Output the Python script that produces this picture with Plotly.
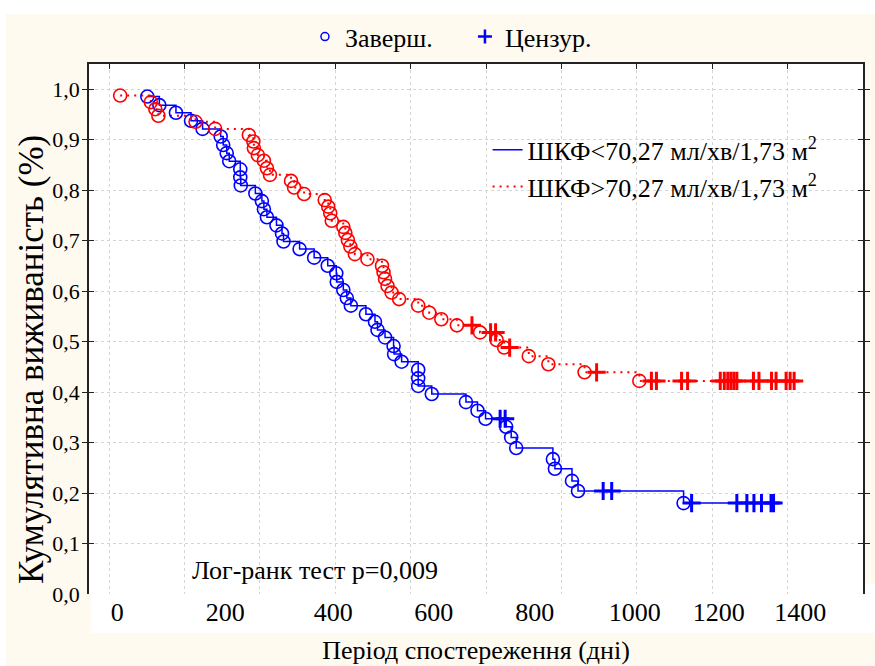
import plotly.graph_objects as go

# ---------------- data ----------------
blue_name = "ШКФ&lt;70,27 мл/хв/1,73 м<sup>2</sup>"
red_name = "ШКФ&gt;70,27 мл/хв/1,73 м<sup>2</sup>"

blue_event_days = [76, 100, 133, 163, 186, 222, 227, 234, 239, 261, 261, 262, 291, 304, 308,
                   314, 333, 344, 347, 379, 408, 435, 452, 453, 466, 473, 481, 511, 529, 534,
                   549, 566, 567, 582, 615, 615, 615, 642, 710, 733, 749, 790, 800, 810, 883,
                   887, 921, 933, 1143]
blue_event_surv = [0.985, 0.968, 0.953, 0.937, 0.921, 0.906, 0.889, 0.873, 0.857, 0.841,
                   0.825, 0.809, 0.793, 0.778, 0.762, 0.746, 0.730, 0.714, 0.698, 0.683,
                   0.666, 0.650, 0.635, 0.618, 0.602, 0.586, 0.571, 0.554, 0.539, 0.523,
                   0.508, 0.491, 0.475, 0.460, 0.444, 0.427, 0.412, 0.396, 0.380, 0.363,
                   0.347, 0.331, 0.310, 0.289, 0.267, 0.248, 0.224, 0.204, 0.180]
blue_cens_days = [778, 788, 983, 1000, 1159, 1249, 1269, 1283, 1298, 1317, 1322]

red_event_days = [22, 83, 92, 98, 172, 211, 278, 287, 288, 296, 308, 314, 320, 362, 368,
                  388, 429, 436, 440, 443, 466, 470, 475, 480, 489, 514, 543, 546, 549, 554,
                  562, 577, 615, 637, 661, 692, 738, 771, 786, 835, 874, 946, 1055]
red_event_surv = [0.987, 0.974, 0.960, 0.947, 0.935, 0.921, 0.909, 0.896, 0.883, 0.869,
                  0.858, 0.843, 0.830, 0.818, 0.805, 0.792, 0.780, 0.767, 0.754, 0.739,
                  0.727, 0.715, 0.701, 0.688, 0.673, 0.663, 0.650, 0.637, 0.624, 0.610,
                  0.597, 0.584, 0.571, 0.557, 0.544, 0.532, 0.518, 0.503, 0.488, 0.471,
                  0.455, 0.439, 0.422]
red_cens_days = [722, 759, 769, 797, 970, 1079, 1089, 1139, 1151, 1216, 1224, 1231, 1237,
                 1243, 1249, 1282, 1293, 1318, 1327, 1347, 1355, 1363]

x_tick_pos = [16, 231, 446, 646, 847, 1046, 1213, 1375]
x_tick_text = ["0", "200", "400", "600", "800", "1000", "1200", "1400"]
grid_x = [0, 150, 300, 450, 600, 750, 900, 1050, 1200, 1350, 1500]
y_ticks = [0.0, 0.1, 0.2, 0.3, 0.4, 0.5, 0.6, 0.7, 0.8, 0.9, 1.0]

legend_top = ["Заверш.", "Цензур."]
x_title = "Період спостереження (дні)"
y_title = "Кумулятивна виживаність (%)"
note = "Лог-ранк тест р=0,009"

BLUE = "#0000FF"
RED = "#FF0000"
FONT = "'Liberation Serif', Tinos, 'Times New Roman', 'DejaVu Serif', serif"


def surv_at(t, days, surv):
    s = 1.0
    for d, v in zip(days, surv):
        if d <= t:
            s = v
    return s


blue_cens_surv = [surv_at(t, blue_event_days, blue_event_surv) for t in blue_cens_days]
red_cens_surv = [surv_at(t, red_event_days, red_event_surv) for t in red_cens_days]

fig = go.Figure()

# step lines
fig.add_trace(go.Scatter(
    x=blue_event_days + [blue_cens_days[-1]], y=blue_event_surv + [blue_event_surv[-1]],
    mode="lines", line=dict(color=BLUE, width=1.5, shape="hv"),
    name=blue_name, legend="legend"))
fig.add_trace(go.Scatter(
    x=red_event_days + [red_cens_days[-1]], y=red_event_surv + [red_event_surv[-1]],
    mode="lines", line=dict(color=RED, width=2, shape="hv", dash="2px,5px"),
    name=red_name, legend="legend"))

# event markers
for days, surv, col in [(blue_event_days, blue_event_surv, BLUE),
                        (red_event_days, red_event_surv, RED)]:
    fig.add_trace(go.Scatter(
        x=days, y=surv, mode="markers", showlegend=False,
        marker=dict(symbol="circle-open", size=13, color=col, line=dict(width=1.6, color=col))))
# censored markers
for days, surv, col in [(blue_cens_days, blue_cens_surv, BLUE),
                        (red_cens_days, red_cens_surv, RED)]:
    fig.add_trace(go.Scatter(
        x=days, y=surv, mode="markers", showlegend=False,
        marker=dict(symbol="cross-thin-open", size=13, color=col, line=dict(width=3, color=col))))

# top legend (marker types)
fig.add_trace(go.Scatter(
    x=[None], y=[None], mode="markers", name=legend_top[0], legend="legend2",
    marker=dict(symbol="circle-open", size=8, color=BLUE, line=dict(width=1.5, color=BLUE))))
fig.add_trace(go.Scatter(
    x=[None], y=[None], mode="markers", name=legend_top[1], legend="legend2",
    marker=dict(symbol="cross-thin-open", size=10, color=BLUE, line=dict(width=2.5, color=BLUE))))

# invisible trace carrying the label axis
fig.add_trace(go.Scatter(x=[None], y=[None], xaxis="x2", showlegend=False, hoverinfo="skip"))

fig.add_annotation(x=161, y=0.046, xref="x", yref="y", text=note, showarrow=False,
                   xanchor="left", yanchor="middle", font=dict(size=26, family=FONT, color="black"))

# y-axis title placed as rotated text
fig.add_annotation(x=(31 - 89) / 774, y=(594 - 360) / 530, xref="paper", yref="paper",
                   text=y_title, textangle=-90, showarrow=False, xanchor="center",
                   yanchor="middle", font=dict(size=35, family=FONT, color="black"))

# page decorations
shapes = [
    dict(type="rect", xref="paper", yref="paper", x0=-0.2, x1=1.1, y0=1.0943, y1=1.2,
         fillcolor="white", line=dict(width=0), layer="below"),
    dict(type="rect", xref="paper", yref="paper", x0=-0.2, x1=-0.1072, y0=-0.2, y1=1.2,
         fillcolor="white", line=dict(width=0), layer="below"),
    dict(type="rect", xref="paper", yref="paper", x0=0.0026, x1=1.1, y0=-0.0736, y1=0.0189,
         fillcolor="white", line=dict(width=0), layer="below"),
]

axis_line = "#222222"
grid_col = "#d4d4d4"

fig.update_layout(
    width=875, height=666,
    margin=dict(l=89, r=12, t=64, b=72, autoexpand=False),
    paper_bgcolor="#FFFAF0", plot_bgcolor="white",
    font=dict(family=FONT, color="black", size=22),
    separators=", ",
    shapes=shapes,
    xaxis=dict(range=[-40, 1500], tickvals=grid_x, showticklabels=False, side="top",
               ticks="inside", ticklen=5, tickcolor=axis_line, showline=True,
               linecolor=axis_line, linewidth=1.5, showgrid=True, gridcolor=grid_col,
               griddash="dot", gridwidth=1, zeroline=False, automargin=False),
    xaxis2=dict(range=[-40, 1500], overlaying="x", side="bottom", anchor="y",
                tickvals=x_tick_pos, ticktext=x_tick_text, showgrid=False, showline=False,
                ticks="", zeroline=False, tickfont=dict(size=26, family=FONT), automargin=False,
                title=dict(text=x_title, font=dict(size=26, family=FONT), standoff=14)),
    yaxis=dict(range=[0, 1.0495], tickvals=y_ticks, tickformat=".1f", ticks="inside",
               ticklen=5, tickcolor=axis_line, showline=True, mirror="allticks",
               linecolor=axis_line, linewidth=1.5, showgrid=True, gridcolor=grid_col,
               griddash="dot", gridwidth=1, zeroline=False, ticklabelstandoff=3,
               tickfont=dict(size=22, family=FONT), automargin=False),
    legend=dict(x=0.515, y=0.8825, xanchor="left", yanchor="top", bgcolor="rgba(0,0,0,0)",
                font=dict(size=26, family=FONT), tracegroupgap=0),
    legend2=dict(orientation="h", x=0.279, y=1.096, xanchor="left", yanchor="top",
                 bgcolor="rgba(0,0,0,0)", font=dict(size=26, family=FONT),
                 entrywidth=115, entrywidthmode="pixels"),
)

fig.write_html("out.html", config={"displayModeBar": False},
               post_script="document.body.style.margin='0';document.body.style.overflow='hidden';")
